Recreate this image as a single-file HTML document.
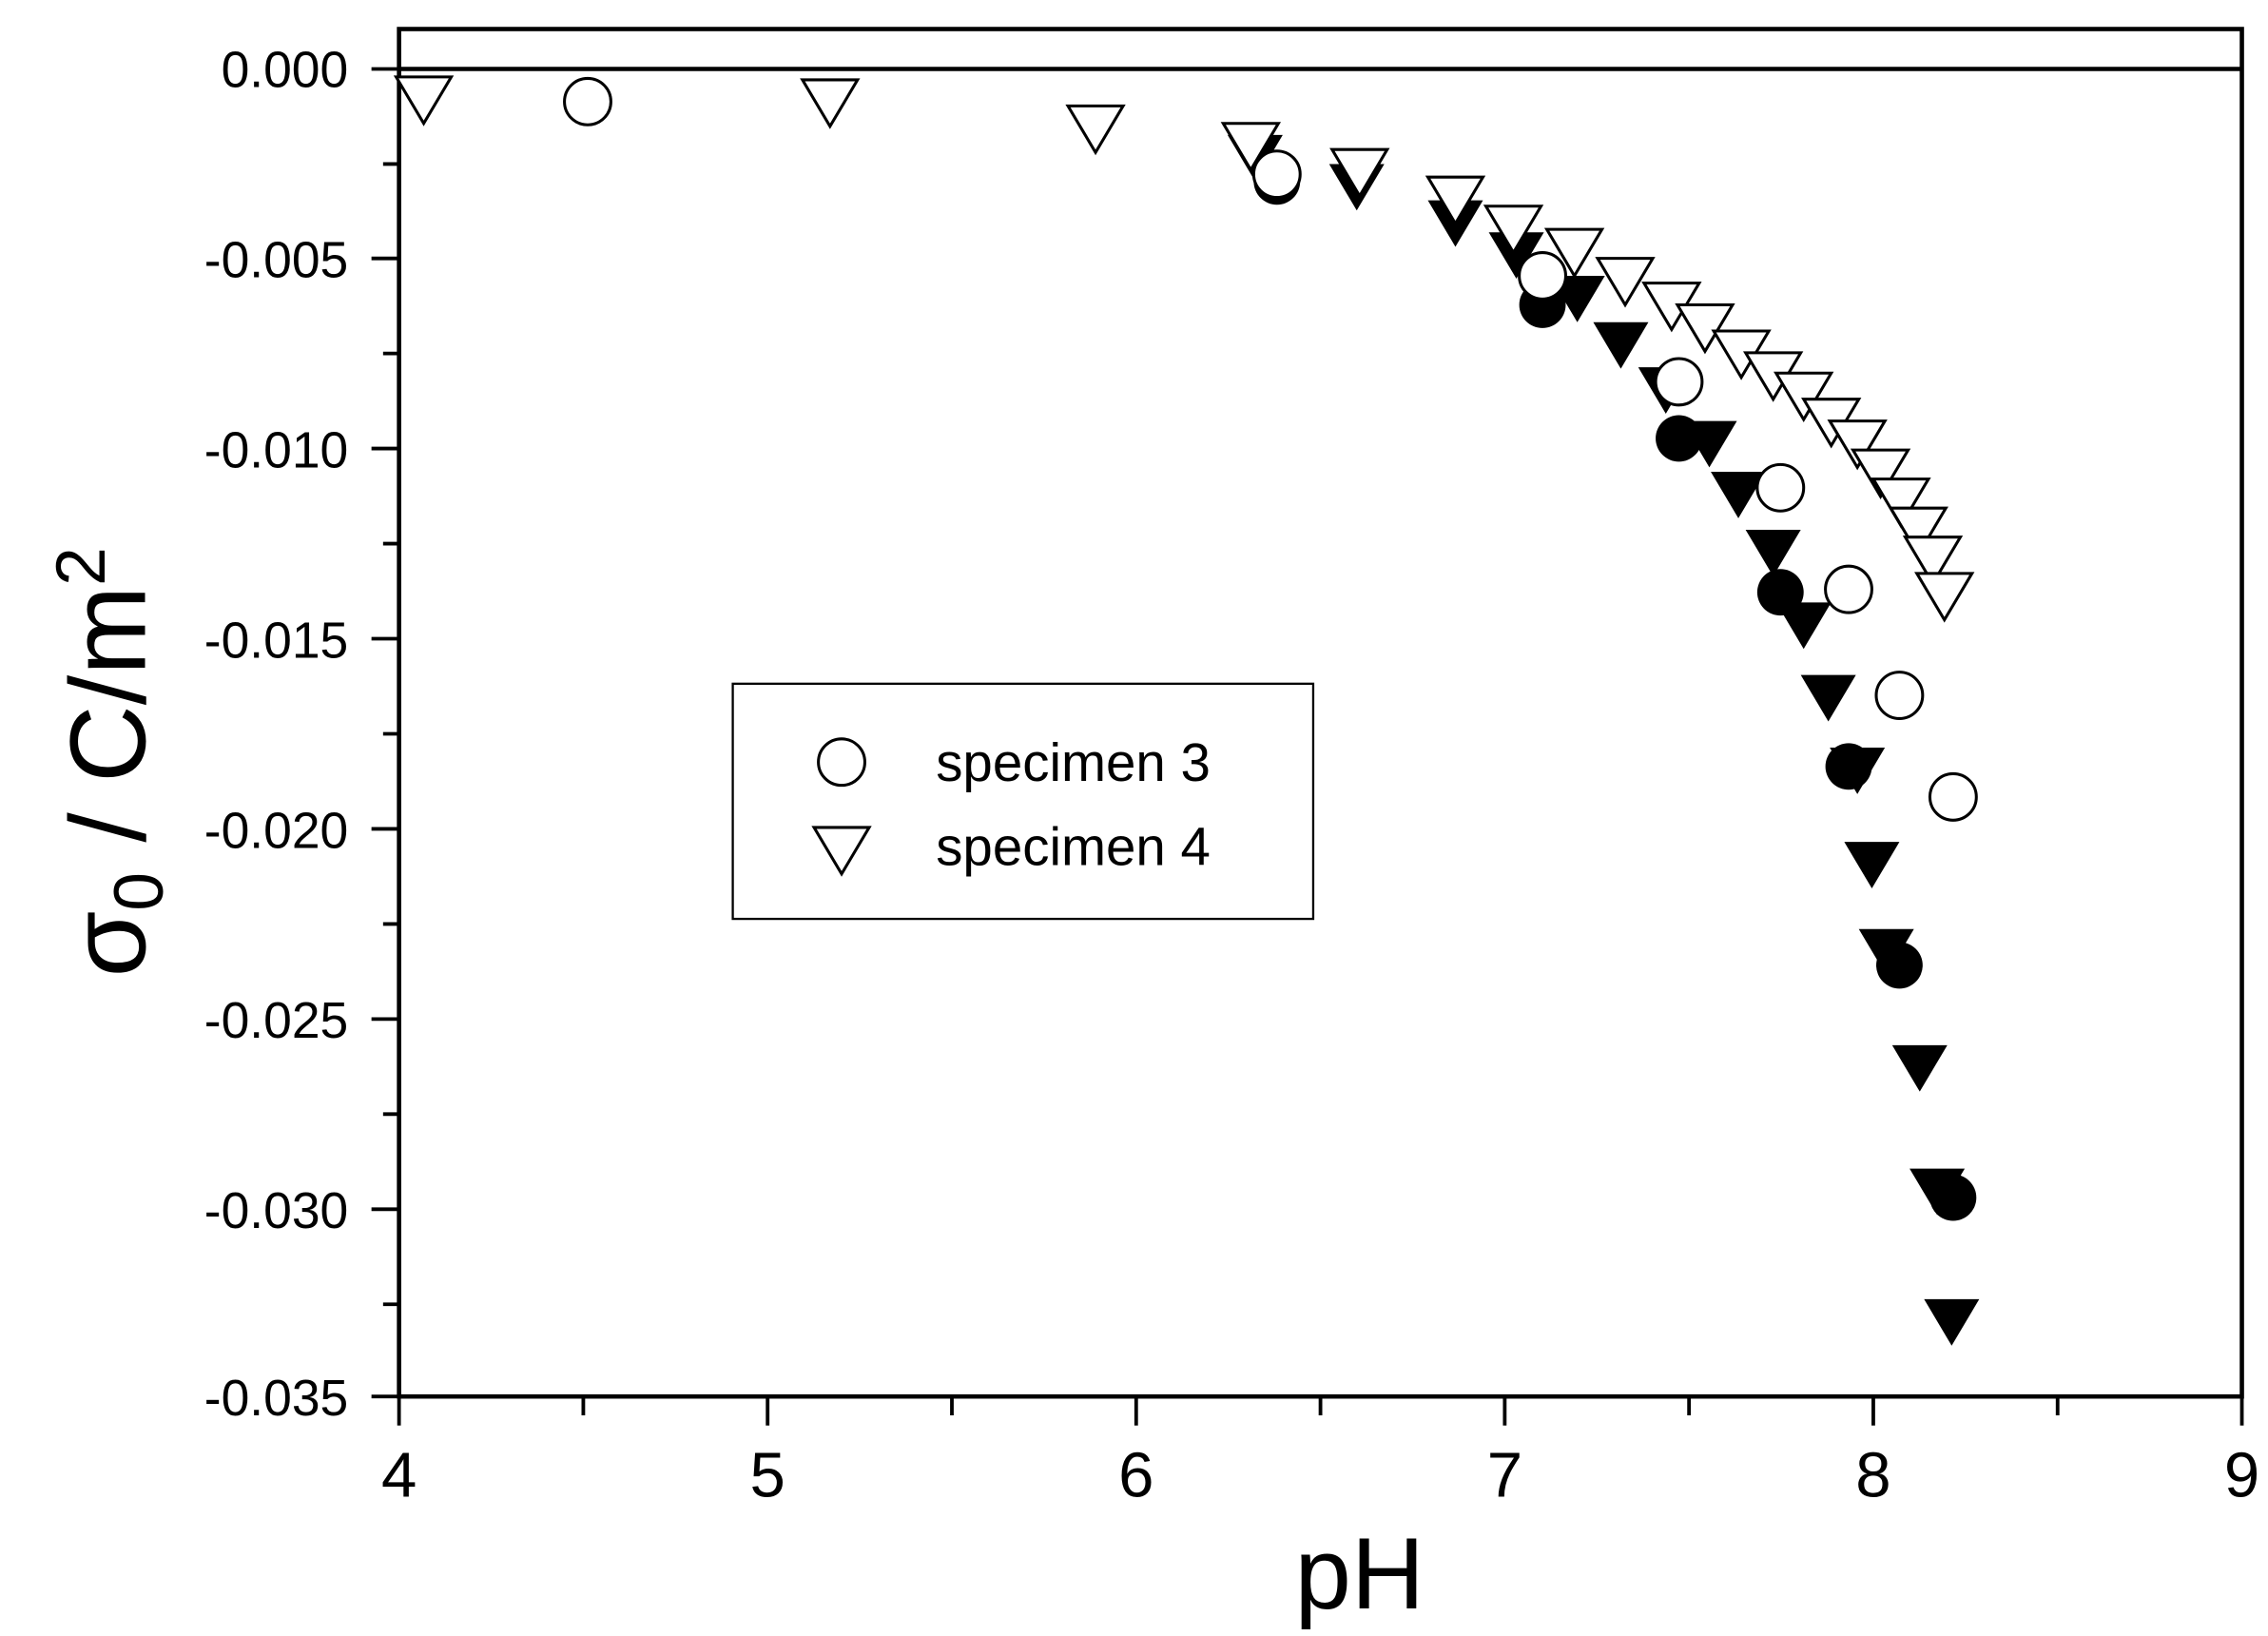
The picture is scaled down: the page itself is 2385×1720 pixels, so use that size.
<!DOCTYPE html>
<html><head><style>html,body{margin:0;padding:0;background:#fff}svg{display:block}</style></head>
<body>
<svg width="2385" height="1720" viewBox="0 0 1563 1127" preserveAspectRatio="none" xmlns="http://www.w3.org/2000/svg" font-family="Liberation Sans, Arial, sans-serif">
<defs>
<path id="t" d="M-19,-15 L19,-15 L0,17 Z"/>
</defs>
<rect x="275" y="20" width="1270" height="942" fill="none" stroke="#000" stroke-width="3"/>
<line x1="275" y1="47.5" x2="1545" y2="47.5" stroke="#000" stroke-width="3"/>
<g stroke="#000" stroke-width="2.5">
<line x1="256" y1="47.5" x2="275" y2="47.5"/><line x1="264" y1="113" x2="275" y2="113"/>
<line x1="256" y1="178" x2="275" y2="178"/><line x1="264" y1="243.5" x2="275" y2="243.5"/>
<line x1="256" y1="309" x2="275" y2="309"/><line x1="264" y1="374.5" x2="275" y2="374.5"/>
<line x1="256" y1="440" x2="275" y2="440"/><line x1="264" y1="505.5" x2="275" y2="505.5"/>
<line x1="256" y1="571" x2="275" y2="571"/><line x1="264" y1="636.5" x2="275" y2="636.5"/>
<line x1="256" y1="702" x2="275" y2="702"/><line x1="264" y1="767.5" x2="275" y2="767.5"/>
<line x1="256" y1="833" x2="275" y2="833"/><line x1="264" y1="898.5" x2="275" y2="898.5"/>
<line x1="256" y1="962" x2="275" y2="962"/>
<line x1="275" y1="962" x2="275" y2="982"/><line x1="402" y1="962" x2="402" y2="975"/>
<line x1="529" y1="962" x2="529" y2="982"/><line x1="656" y1="962" x2="656" y2="975"/>
<line x1="783" y1="962" x2="783" y2="982"/><line x1="910" y1="962" x2="910" y2="975"/>
<line x1="1037" y1="962" x2="1037" y2="982"/><line x1="1164" y1="962" x2="1164" y2="975"/>
<line x1="1291" y1="962" x2="1291" y2="982"/><line x1="1418" y1="962" x2="1418" y2="975"/>
<line x1="1545" y1="962" x2="1545" y2="982"/>
</g>
<g font-size="35" text-anchor="end" fill="#000">
<text x="240" y="60">0.000</text><text x="240" y="191">-0.005</text><text x="240" y="322">-0.010</text>
<text x="240" y="453">-0.015</text><text x="240" y="584">-0.020</text><text x="240" y="715">-0.025</text>
<text x="240" y="846">-0.030</text><text x="240" y="975">-0.035</text>
</g>
<g font-size="44" text-anchor="middle" fill="#000">
<text x="275" y="1031">4</text><text x="529" y="1031">5</text><text x="783" y="1031">6</text>
<text x="1037" y="1031">7</text><text x="1291" y="1031">8</text><text x="1545" y="1031">9</text>
</g>
<text x="937" y="1108" font-size="70" text-anchor="middle">pH</text>
<text transform="translate(100,525) rotate(-90)" font-size="74" text-anchor="middle">σ<tspan font-size="48" dy="12">0</tspan><tspan dy="-12"> / C/m</tspan><tspan font-size="48" dy="-28">2</tspan></text>
<g fill="#000">
<use href="#t" x="865" y="108"/><use href="#t" x="935" y="128"/><use href="#t" x="1003" y="153"/><use href="#t" x="1045" y="175"/>
<use href="#t" x="1087" y="205"/><use href="#t" x="1117" y="237"/><use href="#t" x="1148" y="268"/><use href="#t" x="1178" y="305"/>
<use href="#t" x="1198" y="340"/><use href="#t" x="1222" y="380"/><use href="#t" x="1243" y="430"/><use href="#t" x="1260" y="480"/>
<use href="#t" x="1280" y="530"/><use href="#t" x="1290" y="595"/><use href="#t" x="1300" y="655"/><use href="#t" x="1323" y="735"/>
<use href="#t" x="1335" y="820"/><use href="#t" x="1345" y="910"/>
<circle cx="880" cy="125" r="16"/><circle cx="1063" cy="210" r="16"/><circle cx="1157" cy="302" r="16"/>
<circle cx="1227" cy="408" r="16"/><circle cx="1274" cy="528" r="16"/><circle cx="1309" cy="665" r="16"/><circle cx="1346" cy="825" r="16"/>
</g>
<g fill="#fff" stroke="#000" stroke-width="2">
<use href="#t" x="292" y="68"/><use href="#t" x="572" y="70"/><use href="#t" x="755" y="88"/><use href="#t" x="862" y="100"/>
<use href="#t" x="937" y="118"/><use href="#t" x="1003" y="137"/><use href="#t" x="1043" y="157"/><use href="#t" x="1085" y="173"/>
<use href="#t" x="1120" y="193"/><use href="#t" x="1152" y="210"/><use href="#t" x="1175" y="225"/><use href="#t" x="1200" y="243"/>
<use href="#t" x="1222" y="258"/><use href="#t" x="1243" y="272"/><use href="#t" x="1262" y="290"/><use href="#t" x="1280" y="305"/>
<use href="#t" x="1296" y="325"/><use href="#t" x="1310" y="345"/><use href="#t" x="1322" y="365"/><use href="#t" x="1332" y="385"/><use href="#t" x="1340" y="410"/>
<circle cx="405" cy="70" r="16"/><circle cx="880" cy="120" r="16"/><circle cx="1063" cy="190" r="16"/><circle cx="1157" cy="263" r="16"/>
<circle cx="1227" cy="336" r="16"/><circle cx="1274" cy="406" r="16"/><circle cx="1309" cy="479" r="16"/><circle cx="1346" cy="549" r="16"/>
</g>
<rect x="505" y="471" width="400" height="162" fill="#fff" stroke="#000" stroke-width="1.5"/>
<circle cx="580" cy="525" r="16" fill="#fff" stroke="#000" stroke-width="2"/>
<use href="#t" x="580" y="585" fill="#fff" stroke="#000" stroke-width="2"/>
<text x="645" y="538" font-size="37">specimen 3</text>
<text x="645" y="596" font-size="37">specimen 4</text>
</svg>
</body></html>
